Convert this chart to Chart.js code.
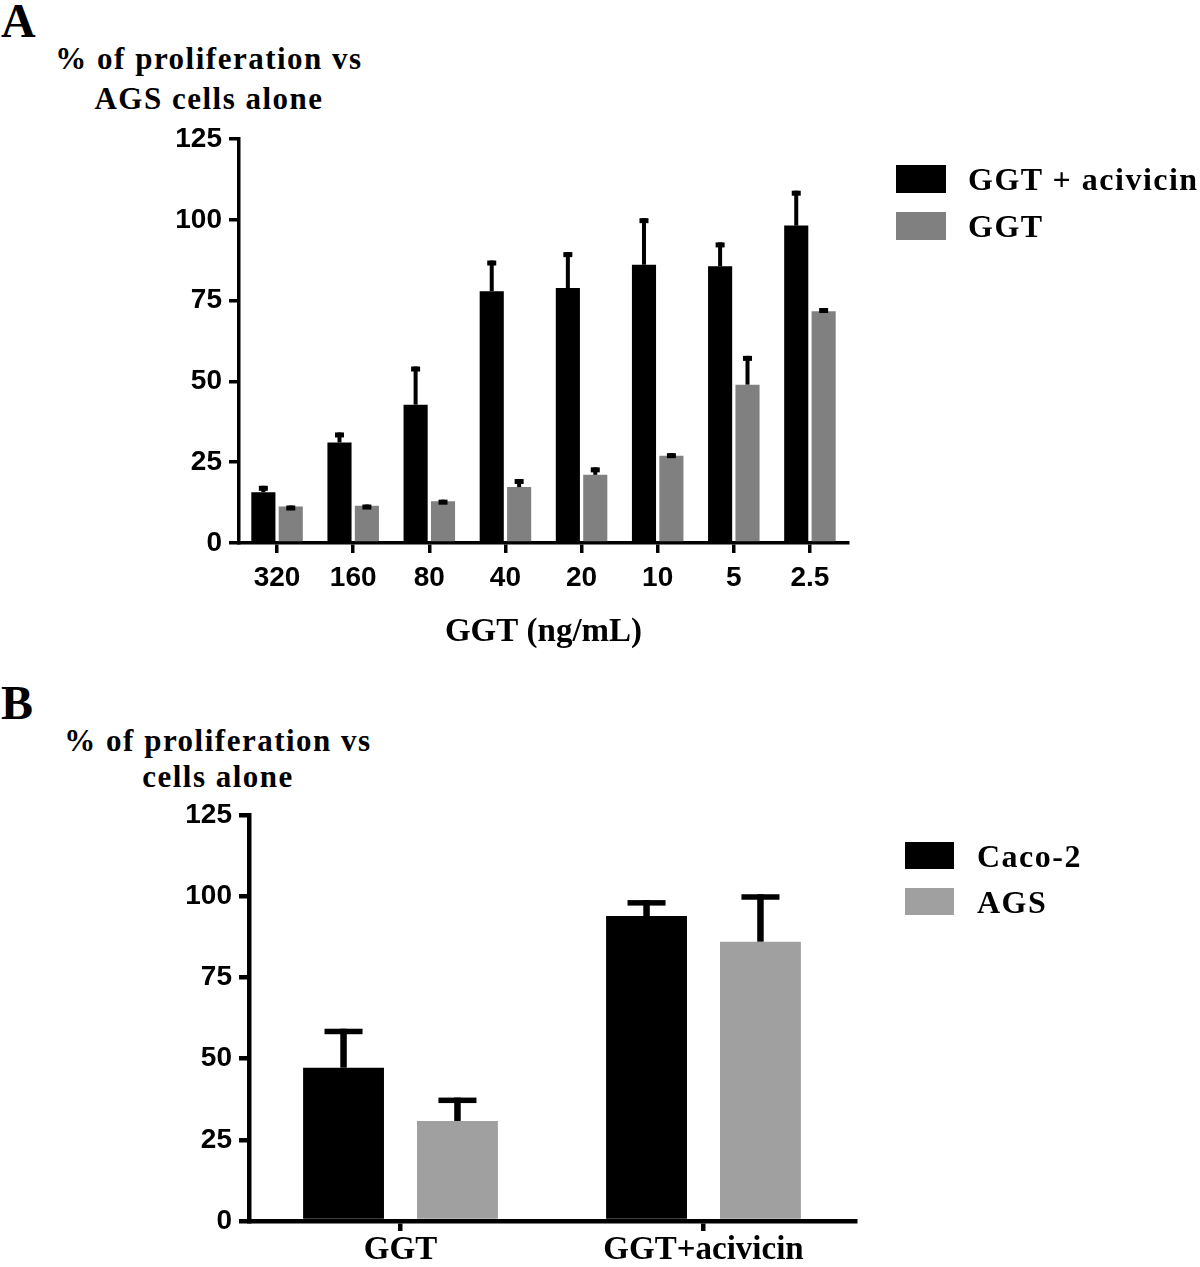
<!DOCTYPE html>
<html>
<head>
<meta charset="utf-8">
<script src="https://cdn.jsdelivr.net/npm/chart.js@4.4.1/dist/chart.umd.min.js"></script>
<style>
  html, body { margin: 0; padding: 0; background: #fff; }
  body { width: 1200px; height: 1267px; position: relative; overflow: hidden;
         font-family: 'Liberation Serif', 'Times New Roman', serif; font-weight: bold; color: #000; }
  .wrap { position: absolute; left: 0; width: 1200px; }
  .letter { position: absolute; left: 1px; font-size: 48px; line-height: 48px; }
  .ytitle { position: absolute; width: 400px; text-align: center; font-size: 31px; letter-spacing: 1.5px; }
  .legend { position: absolute; font-size: 32px; letter-spacing: 1.5px; }
  .legend .box { position: absolute; left: 0; }
  .legend .txt { position: absolute; white-space: nowrap; line-height: 28px; }
</style>
</head>
<body>

<div class="letter" style="top:-3px">A</div>
<div class="ytitle" style="left:9px; top:39px; line-height:40px">% of proliferation vs<br>AGS cells alone</div>
<div class="wrap" style="top:0; height:670px"><canvas id="chartA"></canvas></div>
<div class="legend" id="legendA" style="left:896px; top:165px"></div>

<div class="letter" style="top:679px">B</div>
<div class="ytitle" style="left:18px; top:723px; line-height:36px">% of proliferation vs<br>cells alone</div>
<div class="wrap" style="top:670px; height:597px"><canvas id="chartB"></canvas></div>
<div class="legend" id="legendB" style="left:905px; top:842px"></div>

<script>
// Данные панели A
const doseLabels = ['320', '160', '80', '40', '20', '10', '5', '2.5'];
const ggtAcivicin = [15.7, 31.1, 42.8, 77.9, 78.9, 86.1, 85.6, 98.2];
const ggtAcivicinSem = [2.0, 3.1, 11.8, 9.5, 11.1, 14.4, 7.4, 10.8];
const ggtOnly = [11.3, 11.5, 12.9, 17.3, 21.1, 27.0, 49.0, 71.7];
const ggtOnlySem = [0.3, 0.4, 0.5, 2.5, 2.3, 0.8, 8.9, 1.0];

// Данные панели B
const treatLabels = ['GGT', 'GGT+acivicin'];
const caco2 = [47.2, 93.9];
const caco2Sem = [12.0, 4.9];
const ags = [30.8, 86.0];
const agsSem = [7.2, 14.6];

const yTicks = [0, 25, 50, 75, 100, 125];

Chart.defaults.font.family = "'Liberation Sans', Arial, sans-serif";
Chart.defaults.font.weight = 'bold';
Chart.defaults.color = '#000';
Chart.defaults.animation = false;

// Планки погрешностей (SEM) поверх столбцов
const errorBars = {
    id: 'errorBars',
    afterDatasetsDraw(chart, args, opts) {
        const ctx = chart.ctx;
        const y = chart.scales.y;
        ctx.save();
        ctx.fillStyle = '#000';
        chart.data.datasets.forEach((ds, di) => {
            const meta = chart.getDatasetMeta(di);
            meta.data.forEach((bar, i) => {
                const top = y.getPixelForValue(ds.data[i] + ds.errors[i]);
                const base = y.getPixelForValue(ds.data[i]);
                ctx.fillRect(bar.x - opts.stem / 2, top, opts.stem, base - top);
                ctx.fillRect(bar.x - opts.cap / 2, top, opts.cap, opts.capH);
            });
        });
        ctx.restore();
    }
};

function scalesFor(p) {
    return {
        x: {
            grid: { display: true, offset: false, drawOnChartArea: false, drawTicks: true,
                    tickLength: 10, lineWidth: p.line, color: '#000' },
            border: { display: true, width: p.line, color: '#000' },
            ticks: { color: '#000', font: p.xFont, padding: p.xPad, maxRotation: 0, autoSkip: false },
            title: p.xTitle
                ? { display: true, text: p.xTitle, color: '#000', padding: { top: 4, bottom: 4 },
                    font: { family: "'Liberation Serif', 'Times New Roman', serif", size: 33, weight: 'bold' } }
                : { display: false },
            afterFit: s => { s.height = p.xHeight; }
        },
        y: {
            min: 0,
            max: 125,
            afterBuildTicks: s => { s.ticks = yTicks.map(v => ({ value: v })); },
            grid: { display: true, drawOnChartArea: false, drawTicks: true,
                    tickLength: 10, lineWidth: p.line, color: '#000' },
            border: { display: true, width: p.line, color: '#000' },
            ticks: { color: '#000', padding: 7, font: { size: 28, weight: 'bold' } },
            afterFit: s => { s.width = 100; }
        }
    };
}

function buildLegend(el, datasets, gap, box) {
    datasets.forEach((ds, i) => {
        const b = document.createElement('div');
        b.className = 'box';
        b.style.top = (i * gap) + 'px';
        b.style.width = box[0] + 'px';
        b.style.height = box[1] + 'px';
        b.style.background = ds.backgroundColor;
        const t = document.createElement('div');
        t.className = 'txt';
        t.style.top = (i * gap) + 'px';
        t.style.left = box[2] + 'px';
        t.textContent = ds.label;
        el.appendChild(b);
        el.appendChild(t);
    });
}

// Панель A
const dataA = {
    labels: doseLabels,
    datasets: [
        { label: 'GGT + acivicin', data: ggtAcivicin, errors: ggtAcivicinSem, backgroundColor: '#000000' },
        { label: 'GGT', data: ggtOnly, errors: ggtOnlySem, backgroundColor: '#808080' }
    ]
};
new Chart(document.getElementById('chartA'), {
    type: 'bar',
    data: dataA,
    options: {
        responsive: true,
        maintainAspectRatio: false,
        categoryPercentage: 0.72,
        barPercentage: 0.88,
        layout: { padding: { left: 139, right: 352, top: 139, bottom: 14 } },
        plugins: {
            legend: { display: false },
            tooltip: { enabled: false },
            errorBars: { stem: 4, cap: 9, capH: 5 }
        },
        scales: scalesFor({
            line: 3.5,
            xFont: { size: 28, weight: 'bold' },
            xPad: 8,
            xTitle: 'GGT (ng/mL)',
            xHeight: 113
        })
    },
    plugins: [errorBars]
});
buildLegend(document.getElementById('legendA'), dataA.datasets, 47, [50, 28, 72]);

// Панель B
const dataB = {
    labels: treatLabels,
    datasets: [
        { label: 'Caco-2', data: caco2, errors: caco2Sem, backgroundColor: '#000000' },
        { label: 'AGS', data: ags, errors: agsSem, backgroundColor: '#a0a0a0' }
    ]
};
new Chart(document.getElementById('chartB'), {
    type: 'bar',
    data: dataB,
    options: {
        responsive: true,
        maintainAspectRatio: false,
        categoryPercentage: 0.752,
        barPercentage: 0.71,
        layout: { padding: { left: 149, right: 345, top: 145, bottom: 0 } },
        plugins: {
            legend: { display: false },
            tooltip: { enabled: false },
            errorBars: { stem: 6.5, cap: 38, capH: 5.5 }
        },
        scales: scalesFor({
            line: 4.5,
            xFont: { family: "'Liberation Serif', 'Times New Roman', serif", size: 33, weight: 'bold' },
            xPad: 0,
            xTitle: null,
            xHeight: 46
        })
    },
    plugins: [errorBars]
});
buildLegend(document.getElementById('legendB'), dataB.datasets, 46, [49, 27, 72]);
</script>
</body>
</html>
